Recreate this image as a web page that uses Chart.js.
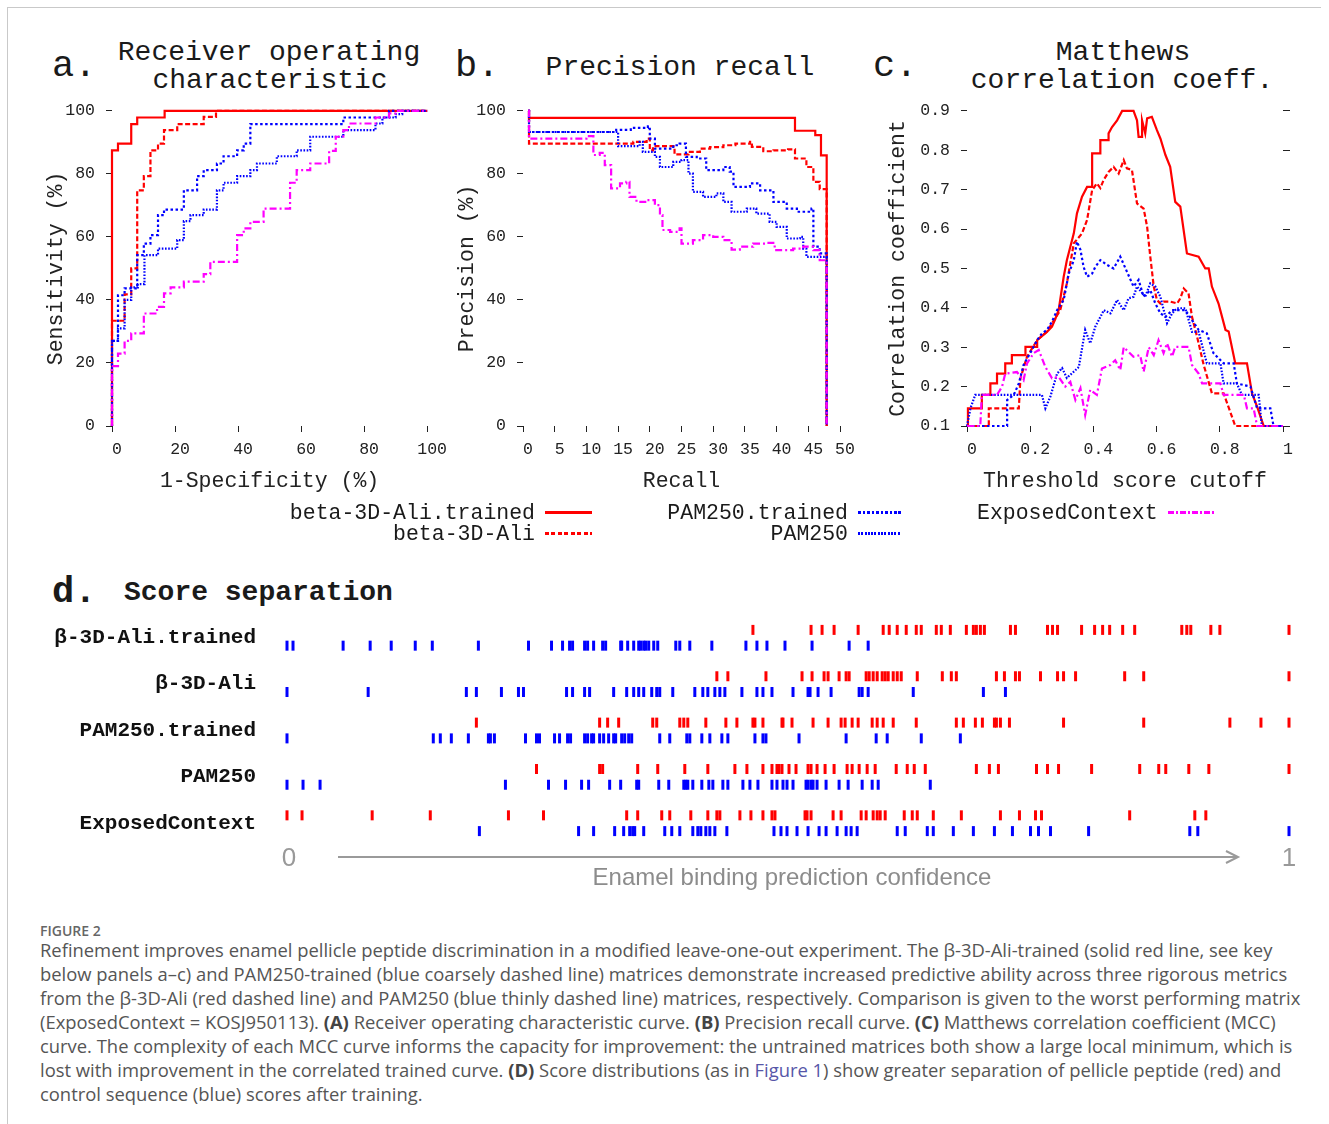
<!DOCTYPE html>
<html><head><meta charset="utf-8">
<script src="https://cdn.jsdelivr.net/npm/chart.js@4/dist/chart.umd.min.js"></script>
<style>
body{margin:0;background:#fff;}
#page{position:relative;width:1329px;height:1124px;overflow:hidden;background:#fff;}
.abs{position:absolute;white-space:nowrap;}
.mono{font-family:'Liberation Mono','Courier New',monospace;color:#1a1a1a;}
.cc{transform:translate(-50%,-50%);}
.lc{transform:translate(0,-50%);}
.rc{transform:translate(0,-50%);text-align:right;}
canvas{position:absolute;}
.cap{position:absolute;left:40px;font-family:'Open Sans',sans-serif;font-size:18.4px;color:#555;white-space:nowrap;line-height:24px;}
.cap b{color:#444;}
.samp{position:absolute;height:3px;}
</style></head>
<body><div id="page">
<div class="abs" style="left:7px;top:7px;width:1313px;height:1130px;border-top:1px solid #c9c9c9;border-left:1px solid #c9c9c9;"></div>

<!-- panel titles -->
<div class="abs mono lc" style="left:52px;top:66px;font-size:37px;">a.</div>
<div class="abs mono cc" style="left:269px;top:52px;font-size:28px;">Receiver operating</div>
<div class="abs mono cc" style="left:270px;top:80px;font-size:28px;">characteristic</div>
<div class="abs mono lc" style="left:455px;top:66px;font-size:37px;">b.</div>
<div class="abs mono cc" style="left:680px;top:67px;font-size:28px;">Precision recall</div>
<div class="abs mono lc" style="left:873px;top:66px;font-size:37px;">c.</div>
<div class="abs mono cc" style="left:1123px;top:52px;font-size:28px;">Matthews</div>
<div class="abs mono cc" style="left:1122px;top:80px;font-size:28px;">correlation coeff.</div>

<canvas id="ca" width="420" height="415" style="left:30px;top:90px;"></canvas>
<canvas id="cb" width="420" height="415" style="left:450px;top:90px;"></canvas>
<canvas id="cc" width="440" height="415" style="left:870px;top:90px;"></canvas>

<!-- legend -->
<div class="abs mono rc" style="right:794px;top:513px;font-size:21.5px;">beta-3D-Ali.trained</div>
<div class="samp" style="left:545px;top:511px;width:47px;background:#ff0000;"></div>
<div class="abs mono rc" style="right:794px;top:534px;font-size:21.5px;">beta-3D-Ali</div>
<div class="samp" style="left:545px;top:532px;width:47px;background:repeating-linear-gradient(90deg,#ff0000 0 4px,transparent 4px 6.5px);"></div>
<div class="abs mono rc" style="right:481px;top:513px;font-size:21.5px;">PAM250.trained</div>
<div class="samp" style="left:858px;top:511px;width:43px;background:repeating-linear-gradient(90deg,#0000ff 0 2.5px,transparent 2.5px 4.5px);"></div>
<div class="abs mono rc" style="right:481px;top:534px;font-size:21.5px;">PAM250</div>
<div class="samp" style="left:858px;top:532px;width:43px;background:repeating-linear-gradient(90deg,#0000ff 0 2px,transparent 2px 3.3px);"></div>
<div class="abs mono lc" style="left:977px;top:513px;font-size:21.5px;">ExposedContext</div>
<div class="samp" style="left:1168px;top:511px;width:47px;background:repeating-linear-gradient(90deg,#ff00ff 0 6px,transparent 6px 8px,#ff00ff 8px 10px,transparent 10px 12px);"></div>

<!-- panel d -->
<div class="abs mono lc" style="left:52px;top:592px;font-size:37px;font-weight:bold;">d.</div>
<div class="abs mono lc" style="left:124px;top:592px;font-size:28px;font-weight:bold;">Score separation</div>
<canvas id="cd" width="1329" height="263" style="left:0px;top:599px;"></canvas>
<div class="abs cc" style="left:289px;top:857px;font-family:'Liberation Sans',Arial,sans-serif;font-size:26px;color:#999;">0</div>
<div class="abs cc" style="left:1289px;top:857px;font-family:'Liberation Sans',Arial,sans-serif;font-size:26px;color:#999;">1</div>
<svg class="abs" style="left:330px;top:847px;" width="920" height="20">
  <line x1="8" y1="10" x2="908" y2="10" stroke="#9a9a9a" stroke-width="2"/>
  <polyline points="896,4 908,10 896,16" fill="none" stroke="#9a9a9a" stroke-width="2"/>
</svg>
<div class="abs cc" style="left:792px;top:877px;font-family:'Liberation Sans',Arial,sans-serif;font-size:24px;color:#8c8c8c;">Enamel binding prediction confidence</div>

<!-- caption -->
<div class="abs" style="left:40px;top:930px;transform:translate(0,-50%);font-family:'Open Sans',sans-serif;font-size:14px;font-weight:600;color:#666;">FIGURE 2</div>
<div class="cap" style="top:938px;">Refinement improves enamel pellicle peptide discrimination in a modified leave-one-out experiment. The β-3D-Ali-trained (solid red line, see key</div>
<div class="cap" style="top:962px;">below panels a–c) and PAM250-trained (blue coarsely dashed line) matrices demonstrate increased predictive ability across three rigorous metrics</div>
<div class="cap" style="top:986px;">from the β-3D-Ali (red dashed line) and PAM250 (blue thinly dashed line) matrices, respectively. Comparison is given to the worst performing matrix</div>
<div class="cap" style="top:1010px;">(ExposedContext = KOSJ950113). <b>(A)</b> Receiver operating characteristic curve. <b>(B)</b> Precision recall curve. <b>(C)</b> Matthews correlation coefficient (MCC)</div>
<div class="cap" style="top:1034px;">curve. The complexity of each MCC curve informs the capacity for improvement: the untrained matrices both show a large local minimum, which is</div>
<div class="cap" style="top:1058px;">lost with improvement in the correlated trained curve. <b>(D)</b> Score distributions (as in <span style="color:#5656a8;">Figure 1</span>) show greater separation of pellicle peptide (red) and</div>
<div class="cap" style="top:1082px;">control sequence (blue) scores after training.</div>
</div>

<script>
// ===== Panel a: ROC curve  [1-Specificity %, Sensitivity %]
const rocBetaTrained = [[0,0],[0,87.5],[1.9,89.6],[6.1,95.8],[8,97.9],[16.7,100],[100,100]];
const rocBeta = [[0,0],[0,33.4],[4,41.8],[6.1,50],[8,74.8],[10.1,79.3],[12.2,87.5],[14.6,89.6],[16.5,93.9],[20.7,95.8],[29.1,98.1],[33,100],[100,100]];
const rocPamTrained = [[0,0],[0,27],[1.9,41.5],[4,43.7],[8,54.2],[10.1,57.9],[12.2,60.6],[14.6,66.9],[16.5,68.7],[22.8,74.8],[27,79.3],[29.1,81.2],[33.3,83.3],[35.4,85.6],[39.7,87.5],[41.8,89.6],[43.9,95.8],[73.4,97.9],[87.9,100],[100,100]];
const rocPam = [[0,0],[0,27],[1.9,31],[4,40],[6.1,44],[8.2,45],[10.3,54.2],[14.6,56.3],[20.7,59],[22.8,65],[24.9,66.9],[29.1,68.7],[33.3,74.8],[35.4,77.2],[39.7,79.3],[43.9,81.2],[46,83.3],[52.3,85.6],[58.6,87.5],[62.9,91.8],[73.4,93.9],[83.6,96],[85.8,97.9],[90,99],[92.1,100],[100,100]];
const rocExposed = [[0,0],[0,19],[1.9,23],[4,27],[6.1,29.4],[10.1,35.7],[14.3,37.8],[16.5,42.1],[18.6,44],[22.8,45.8],[29.1,48.2],[31.2,52.1],[39.7,60.6],[41.8,62.7],[43.9,64.8],[48.1,69],[56.5,77.2],[58.6,81.2],[62.9,83.3],[68.9,87.3],[71,91.8],[73.4,93.9],[75.2,96],[83.6,97.9],[87.9,99.2],[90,100],[100,100]];

// ===== Panel b: Precision recall  [Recall, Precision %]
const prBetaTrained = [[0.8,100],[0.95,97.8],[42.9,93.7],[46.1,92.3],[47,85.9],[47.9,52.6],[47.9,0]];
const prBeta = [[0.8,100],[0.95,89.6],[17.4,90.2],[19.5,91.2],[20,87.5],[20.5,88.8],[23.9,86.2],[26.1,87],[27.9,88],[29.5,88.5],[31.6,89.1],[33.5,89.6],[35.8,90.2],[36.1,88.6],[37.9,87.2],[39.5,87.5],[41.8,87.8],[42.9,84.9],[44.7,82.2],[45.8,77.5],[46.8,75.2],[47.9,75],[47.9,0]];
const prPamTrained = [[0.8,100],[0.95,93.3],[14.7,94],[17,94.6],[19.7,95.1],[20,91.2],[20.8,88],[23.7,89.1],[24.7,89.6],[25.7,85.4],[27.4,84.9],[28.9,81.2],[31.6,82.2],[32.6,80.7],[33.2,75.9],[35.8,77],[37.4,74.8],[39.5,71.1],[41.6,69],[43.2,68],[45.5,69],[45.8,56.9],[46.8,54.8],[47.9,52.6],[47.9,0]];
const prPam = [[0.8,100],[0.95,93.3],[15,88.8],[18.4,90.2],[18.9,87],[20.8,85.4],[21.6,82.2],[23.7,83.8],[25,84.4],[26.1,80.1],[26.8,74.3],[28.4,72.7],[30.5,73.8],[31.6,71.1],[32.9,68],[35.3,69],[36.8,67.4],[38.9,64.8],[40,63.2],[41.6,59.5],[43.7,60],[44.2,56.3],[44.7,53.7],[46.8,53.7],[47.9,52.6],[47.9,0]];
const prExposed = [[0.8,100],[0.95,91.2],[10,92],[11.1,86],[12.1,86.7],[12.9,82.8],[13.9,75.4],[15.3,77],[16.3,77.5],[16.8,72.7],[17.9,71.1],[19.5,71.7],[20.8,70.1],[21.6,66.9],[22,62.2],[23.2,61.6],[24.7,62.7],[25,57.9],[26.8,59],[28.4,60.6],[30,60],[31.6,59],[32.9,56],[34.2,56.9],[36.3,57.9],[38.2,58.1],[39.7,55.8],[41.6,55.8],[42.6,56.3],[44.2,56.9],[45.8,55.8],[46.8,52.6],[47.9,52.6],[47.9,0]];

// ===== Panel c: Matthews correlation coefficient [threshold, MCC]
const mccBetaTrained = [[0,0.1],[0.003,0.145],[0.047,0.145],[0.047,0.179],[0.074,0.179],[0.074,0.208],[0.095,0.208],[0.095,0.233],[0.121,0.233],[0.121,0.259],[0.142,0.259],[0.142,0.28],[0.185,0.28],[0.185,0.301],[0.222,0.301],[0.222,0.318],[0.253,0.339],[0.269,0.352],[0.28,0.373],[0.29,0.394],[0.306,0.479],[0.316,0.521],[0.338,0.589],[0.348,0.64],[0.364,0.682],[0.38,0.707],[0.396,0.707],[0.396,0.792],[0.422,0.792],[0.422,0.826],[0.448,0.826],[0.448,0.843],[0.459,0.859],[0.475,0.876],[0.491,0.9],[0.527,0.9],[0.538,0.876],[0.543,0.834],[0.554,0.834],[0.554,0.876],[0.564,0.843],[0.57,0.881],[0.585,0.885],[0.601,0.851],[0.612,0.83],[0.628,0.788],[0.643,0.758],[0.659,0.669],[0.675,0.657],[0.696,0.538],[0.733,0.53],[0.754,0.5],[0.765,0.5],[0.775,0.454],[0.796,0.411],[0.818,0.344],[0.828,0.34],[0.849,0.259],[0.886,0.259],[0.902,0.183],[0.918,0.149],[0.939,0.1],[1,0.1]];
const mccBeta = [[0,0.1],[0.069,0.1],[0.069,0.145],[0.164,0.145],[0.169,0.221],[0.19,0.276],[0.222,0.318],[0.253,0.34],[0.295,0.394],[0.316,0.462],[0.338,0.564],[0.364,0.589],[0.38,0.623],[0.396,0.699],[0.411,0.716],[0.422,0.704],[0.432,0.724],[0.448,0.745],[0.464,0.758],[0.48,0.741],[0.496,0.775],[0.506,0.754],[0.522,0.75],[0.538,0.665],[0.559,0.652],[0.57,0.606],[0.58,0.53],[0.591,0.454],[0.601,0.42],[0.612,0.411],[0.622,0.416],[0.643,0.416],[0.665,0.411],[0.675,0.424],[0.686,0.449],[0.701,0.437],[0.712,0.377],[0.728,0.327],[0.749,0.255],[0.775,0.183],[0.812,0.183],[0.849,0.1],[1,0.1]];
const mccPamTrained = [[0,0.1],[0.127,0.1],[0.127,0.166],[0.148,0.179],[0.164,0.208],[0.179,0.255],[0.2,0.285],[0.222,0.318],[0.237,0.335],[0.253,0.344],[0.269,0.365],[0.285,0.394],[0.306,0.42],[0.322,0.487],[0.338,0.521],[0.348,0.568],[0.359,0.547],[0.369,0.504],[0.38,0.479],[0.396,0.487],[0.406,0.504],[0.422,0.521],[0.443,0.509],[0.464,0.5],[0.485,0.53],[0.506,0.492],[0.527,0.454],[0.543,0.471],[0.559,0.428],[0.58,0.445],[0.596,0.411],[0.612,0.386],[0.628,0.377],[0.649,0.394],[0.67,0.394],[0.691,0.394],[0.712,0.369],[0.733,0.344],[0.759,0.335],[0.78,0.285],[0.812,0.259],[0.844,0.259],[0.854,0.208],[0.897,0.2],[0.918,0.145],[0.96,0.145],[0.97,0.1],[1,0.1]];
const mccPam = [[0,0.1],[0.011,0.145],[0.026,0.179],[0.237,0.179],[0.248,0.145],[0.264,0.175],[0.285,0.233],[0.301,0.247],[0.316,0.222],[0.338,0.238],[0.354,0.25],[0.374,0.344],[0.39,0.31],[0.406,0.352],[0.433,0.394],[0.454,0.386],[0.475,0.42],[0.496,0.394],[0.511,0.424],[0.527,0.428],[0.538,0.454],[0.564,0.428],[0.58,0.462],[0.596,0.454],[0.612,0.428],[0.633,0.361],[0.649,0.386],[0.665,0.399],[0.691,0.399],[0.712,0.339],[0.733,0.339],[0.759,0.259],[0.802,0.259],[0.812,0.208],[0.854,0.208],[0.87,0.179],[0.923,0.179],[0.933,0.1],[1,0.1]];
const mccExposed = [[0,0.1],[0.042,0.1],[0.047,0.179],[0.095,0.179],[0.111,0.2],[0.121,0.233],[0.158,0.237],[0.179,0.216],[0.19,0.259],[0.211,0.285],[0.227,0.293],[0.248,0.25],[0.269,0.221],[0.29,0.225],[0.311,0.2],[0.327,0.212],[0.343,0.166],[0.359,0.196],[0.374,0.128],[0.39,0.192],[0.411,0.179],[0.427,0.246],[0.454,0.255],[0.469,0.267],[0.485,0.242],[0.496,0.3],[0.527,0.276],[0.548,0.28],[0.559,0.238],[0.575,0.3],[0.591,0.28],[0.606,0.318],[0.622,0.285],[0.633,0.31],[0.649,0.276],[0.659,0.301],[0.68,0.301],[0.701,0.301],[0.712,0.255],[0.733,0.233],[0.744,0.208],[0.802,0.208],[0.812,0.179],[0.876,0.179],[0.886,0.145],[0.907,0.145],[0.918,0.1],[1,0.1]];

// ===== Panel d: score separation (red = pellicle peptides, blue = control sequences)
const sepRows = ['β-3D-Ali.trained','β-3D-Ali','PAM250.trained','PAM250','ExposedContext'];
const sepBetaTrainedRed = [0.465,0.523,0.534,0.546,0.570,0.595,0.601,0.609,0.618,0.628,0.633,0.648,0.653,0.662,0.678,0.685,0.688,0.692,0.696,0.722,0.727,0.759,0.764,0.769,0.793,0.806,0.814,0.821,0.834,0.846,0.893,0.898,0.902,0.922,0.931,1.000];
const sepBetaTrainedBlue = [0.000,0.006,0.056,0.083,0.104,0.128,0.145,0.191,0.241,0.264,0.275,0.282,0.285,0.297,0.300,0.306,0.315,0.318,0.333,0.334,0.340,0.346,0.351,0.353,0.356,0.358,0.361,0.366,0.370,0.388,0.392,0.402,0.424,0.458,0.469,0.479,0.497,0.524,0.561,0.580];
const sepBetaRed = [0.429,0.440,0.478,0.514,0.524,0.536,0.540,0.551,0.558,0.561,0.578,0.581,0.585,0.589,0.594,0.597,0.600,0.605,0.609,0.613,0.629,0.654,0.663,0.668,0.708,0.716,0.727,0.731,0.752,0.769,0.775,0.787,0.836,0.855,1.000];
const sepBetaBlue = [0.000,0.081,0.179,0.189,0.214,0.231,0.236,0.279,0.285,0.297,0.302,0.326,0.339,0.346,0.351,0.356,0.364,0.369,0.372,0.385,0.407,0.415,0.420,0.427,0.432,0.437,0.454,0.469,0.475,0.484,0.505,0.520,0.522,0.530,0.543,0.571,0.574,0.580,0.625,0.695,0.717];
const sepPamTrainedRed = [0.189,0.312,0.320,0.331,0.365,0.369,0.392,0.396,0.400,0.418,0.438,0.449,0.465,0.467,0.475,0.494,0.495,0.504,0.525,0.540,0.553,0.557,0.564,0.570,0.584,0.589,0.595,0.605,0.628,0.668,0.675,0.687,0.694,0.706,0.708,0.712,0.721,0.775,0.855,0.941,0.972,1.000];
const sepPamTrainedBlue = [0.000,0.146,0.153,0.164,0.181,0.201,0.203,0.207,0.238,0.249,0.252,0.267,0.272,0.280,0.283,0.297,0.300,0.304,0.306,0.312,0.316,0.321,0.326,0.328,0.334,0.337,0.341,0.344,0.372,0.382,0.399,0.402,0.414,0.422,0.434,0.440,0.467,0.475,0.478,0.511,0.558,0.588,0.599,0.633,0.672];
const sepPamRed = [0.249,0.312,0.315,0.350,0.370,0.397,0.420,0.447,0.459,0.475,0.484,0.489,0.491,0.494,0.501,0.508,0.520,0.523,0.529,0.537,0.546,0.559,0.564,0.571,0.579,0.587,0.608,0.619,0.626,0.637,0.688,0.701,0.710,0.748,0.759,0.770,0.803,0.851,0.870,0.877,0.900,0.920,1.000];
const sepPamBlue = [0.000,0.016,0.033,0.218,0.261,0.278,0.294,0.301,0.322,0.333,0.349,0.351,0.371,0.381,0.396,0.398,0.400,0.405,0.414,0.421,0.425,0.435,0.440,0.455,0.462,0.470,0.484,0.489,0.495,0.499,0.505,0.518,0.520,0.523,0.525,0.529,0.538,0.551,0.560,0.574,0.584,0.590,0.642];
const sepExposedRed = [0.000,0.015,0.085,0.143,0.221,0.256,0.339,0.350,0.374,0.382,0.403,0.420,0.429,0.432,0.452,0.463,0.475,0.484,0.487,0.517,0.519,0.523,0.545,0.553,0.573,0.578,0.585,0.589,0.592,0.597,0.616,0.624,0.629,0.645,0.673,0.712,0.731,0.747,0.753,0.841,0.906,0.917];
const sepExposedBlue = [0.192,0.291,0.306,0.327,0.336,0.342,0.345,0.347,0.356,0.377,0.384,0.392,0.405,0.410,0.413,0.418,0.422,0.427,0.439,0.486,0.493,0.499,0.509,0.520,0.531,0.538,0.549,0.558,0.563,0.569,0.609,0.617,0.639,0.645,0.665,0.685,0.706,0.724,0.742,0.750,0.762,0.800,0.901,0.909,1.000];

// ===== tick labels
const rocTicks = [0,20,40,60,80,100];
const prXTicks = [0,5,10,15,20,25,30,35,40,45,50];
const pctTicks = [0,20,40,60,80,100];
const mccXTicks = [0,0.2,0.4,0.6,0.8,1];
const mccYTicks = [0.1,0.2,0.3,0.4,0.5,0.6,0.7,0.8,0.9];

const MONO = "'Liberation Mono','Courier New',monospace";
const INK = '#222';
const RED = '#ff0000', BLUE = '#0000ff', MAG = '#ff00ff';
const STY = {
  betaTrained: {c:RED, d:[]},
  beta: {c:RED, d:[5,2.5]},
  pamTrained: {c:BLUE, d:[2.5,2.5]},
  pam: {c:BLUE, d:[1.6,1.6]},
  exposed: {c:MAG, d:[7,3,2,3]}
};
function ds(label, arr, sty, stepped){
  return {label, data: arr.map(p=>({x:p[0], y:p[1]})), borderColor: sty.c, backgroundColor: sty.c,
    borderWidth: 2.2, borderDash: sty.d, pointRadius: 0, pointHoverRadius:0, fill:false, tension:0,
    stepped: stepped, clip:false, showLine:true};
}
function fixTicks(vals){ return s => { s.ticks = vals.map(v=>({value:v})); }; }
function xAxis(min,max,vals,title,fmt){
  return {type:'linear', position:'bottom', min, max,
    border:{display:false},
    grid:{drawOnChartArea:false, drawTicks:true, tickLength:6, tickColor:INK, lineWidth:1},
    ticks:{labelOffset:5, padding:8, color:INK, font:{family:MONO, size:16.5}, maxRotation:0, autoSkip:false,
      callback: fmt || (v=>String(v))},
    afterBuildTicks: fixTicks(vals),
    title:{display:true, text:title, color:INK, font:{family:MONO, size:21.5}, padding:{top:0,bottom:11}},
    afterFit: s=>{ s.height = 79; }
  };
}
function yAxis(min,max,vals,title,width,titlePad,fmt){
  return {type:'linear', position:'left', min, max,
    border:{display:false},
    grid:{drawOnChartArea:false, drawTicks:true, tickLength:6, tickColor:INK, lineWidth:1},
    ticks:{padding:11, color:INK, font:{family:MONO, size:16.5}, autoSkip:false, callback: fmt || (v=>String(v))},
    afterBuildTicks: fixTicks(vals),
    title:{display:true, text:title, color:INK, font:{family:MONO, size:21.5}, padding:{top:titlePad,bottom:0}},
    afterFit: s=>{ s.width = width; }
  };
}
const baseOpts = {responsive:false, animation:false, devicePixelRatio:1,
  plugins:{legend:{display:false}, tooltip:{enabled:false}}, events:[]};

new Chart(document.getElementById('ca'), {
  type:'line',
  data:{datasets:[
    ds('ExposedContext', rocExposed, STY.exposed, true),
    ds('PAM250', rocPam, STY.pam, true),
    ds('PAM250.trained', rocPamTrained, STY.pamTrained, true),
    ds('beta-3D-Ali', rocBeta, STY.beta, true),
    ds('beta-3D-Ali.trained', rocBetaTrained, STY.betaTrained, true)
  ]},
  options:Object.assign({}, baseOpts, {
    layout:{padding:{top:0,right:22,bottom:0,left:0}},
    scales:{
      x: xAxis(0,100,rocTicks,'1-Specificity (%)'),
      y: yAxis(0,100,pctTicks,'Sensitivity (%)',82,13)
    }
  })
});

new Chart(document.getElementById('cb'), {
  type:'line',
  data:{datasets:[
    ds('ExposedContext', prExposed, STY.exposed, true),
    ds('PAM250', prPam, STY.pam, true),
    ds('PAM250.trained', prPamTrained, STY.pamTrained, true),
    ds('beta-3D-Ali', prBeta, STY.beta, true),
    ds('beta-3D-Ali.trained', prBetaTrained, STY.betaTrained, true)
  ]},
  options:Object.assign({}, baseOpts, {
    layout:{padding:{top:0,right:30,bottom:0,left:0}},
    scales:{
      x: xAxis(0,50,prXTicks,'Recall'),
      y: yAxis(0,100,pctTicks,'Precision (%)',73,4)
    }
  })
});

new Chart(document.getElementById('cc'), {
  type:'line',
  data:{datasets:[
    ds('ExposedContext', mccExposed, STY.exposed, false),
    ds('PAM250', mccPam, STY.pam, false),
    ds('PAM250.trained', mccPamTrained, STY.pamTrained, false),
    ds('beta-3D-Ali', mccBeta, STY.beta, false),
    ds('beta-3D-Ali.trained', mccBetaTrained, STY.betaTrained, false)
  ]},
  options:Object.assign({}, baseOpts, {
    layout:{padding:{top:0,right:19,bottom:0,left:0}},
    scales:{
      x: xAxis(0,1,mccXTicks,'Threshold score cutoff'),
      y: yAxis(0.1,0.9,mccYTicks,'Correlation coefficient',97,15, v=>v.toFixed(1)),
      y2: {type:'linear', position:'right', min:0.1, max:0.9,
        border:{display:false},
        grid:{drawOnChartArea:false, drawTicks:true, tickLength:7, tickColor:INK, lineWidth:1},
        ticks:{display:false, padding:0},
        afterBuildTicks: fixTicks(mccYTicks),
        afterFit: s=>{ s.width = 8; }
      }
    }
  })
});

// Panel d
const sepRed = [sepBetaTrainedRed, sepBetaRed, sepPamTrainedRed, sepPamRed, sepExposedRed];
const sepBlue = [sepBetaTrainedBlue, sepBetaBlue, sepPamTrainedBlue, sepPamBlue, sepExposedBlue];
const rowValue = i => sepRows.length - i;
const dDatasets = [];
sepRows.forEach((name,i)=>{
  const rv = rowValue(i);
  [[sepRed[i], RED, 0.17],[sepBlue[i], BLUE, -0.17]].forEach(([arr,col,off])=>{
    dDatasets.push({label:name, data: arr.map(v=>({x:v, y:rv+off})),
      pointStyle:'line', rotation:90, pointRadius:5, pointBorderWidth:3, borderColor:col, backgroundColor:col,
      pointBorderColor:col, showLine:false, clip:false});
  });
});
new Chart(document.getElementById('cd'), {
  type:'scatter',
  data:{datasets:dDatasets},
  options:Object.assign({}, baseOpts, {
    layout:{padding:{top:0,right:40,bottom:0,left:0}},
    scales:{
      x:{type:'linear', min:0, max:1, display:false},
      y:{type:'linear', min:0.5, max:5.5,
        border:{display:false},
        grid:{display:false, drawTicks:true, tickLength:28},
        ticks:{padding:3, color:'#111', font:{family:MONO, size:21, weight:'bold'},
          callback: v => { const i = sepRows.length - v; return sepRows[i] || ''; }},
        afterBuildTicks: fixTicks(sepRows.map((_,i)=>rowValue(i))),
        afterFit: s=>{ s.width = 287; }
      }
    }
  })
});
</script>
</body></html>
